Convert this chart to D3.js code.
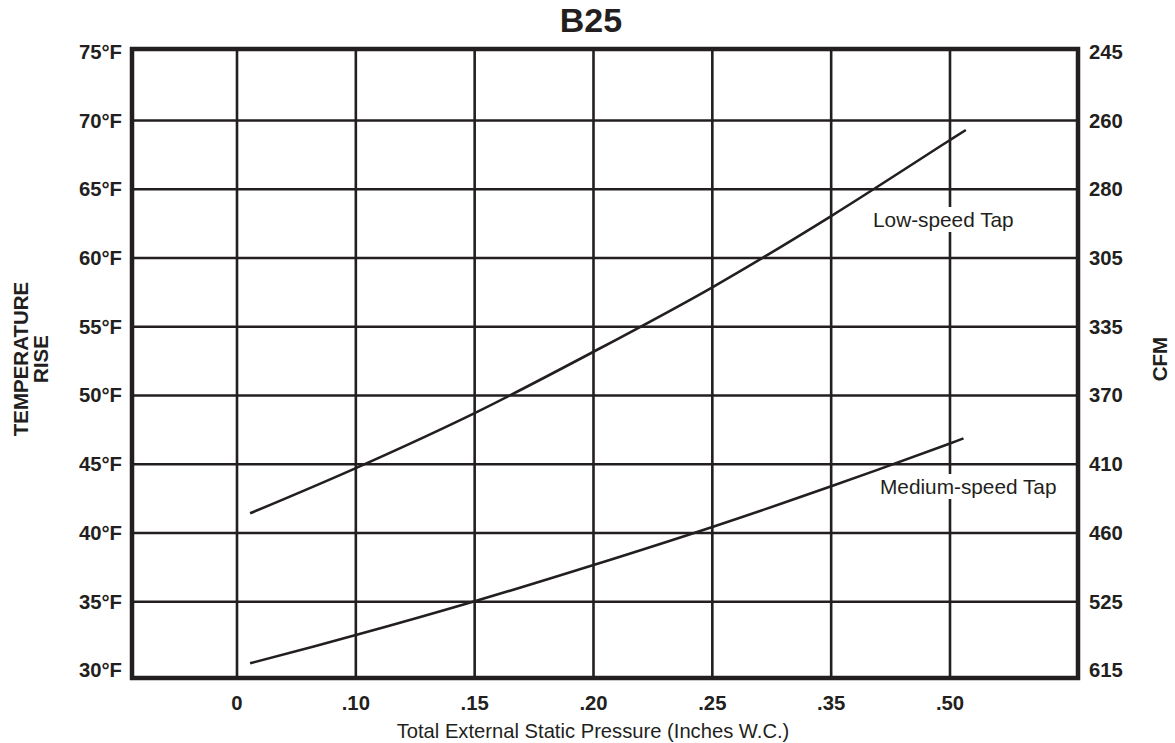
<!DOCTYPE html>
<html>
<head>
<meta charset="utf-8">
<script src="https://cdn.jsdelivr.net/npm/d3@7"></script>
<style>
  html, body { margin: 0; padding: 0; background: #fff; }
  svg { display: block; font-family: "Liberation Sans", Arial, Helvetica, sans-serif; }
</style>
</head>
<body>
<svg id="chart" width="1175" height="743"></svg>
<script>
// ---------------- data ----------------
const title = "B25";
const pressureCategories = ["0", ".10", ".15", ".20", ".25", ".35", ".50"];
const pressureValues = [0, 0.10, 0.15, 0.20, 0.25, 0.35, 0.50];
const tempTicks = [75, 70, 65, 60, 55, 50, 45, 40, 35, 30];
const tempLabels = ["75°F", "70°F", "65°F", "60°F", "55°F", "50°F", "45°F", "40°F", "35°F", "30°F"];
const cfmLabels = ["245", "260", "280", "305", "335", "370", "410", "460", "525", "615"];

const lowSpeedPressure = [0.011, 0.10, 0.15, 0.20, 0.25, 0.35, 0.50, 0.52];
const lowSpeedTemp     = [41.43, 44.72, 48.72, 53.18, 57.87, 63.05, 68.58, 69.31];
const mediumSpeedPressure = [0.011, 0.10, 0.15, 0.20, 0.25, 0.35, 0.50, 0.517];
const mediumSpeedTemp     = [30.52, 32.57, 35.03, 37.67, 40.44, 43.39, 46.51, 46.88];

const seriesLabels = ["Low-speed Tap", "Medium-speed Tap"];
const xAxisTitle = "Total External Static Pressure (Inches W.C.)";
const leftAxisTitle = ["TEMPERATURE", "RISE"];
const rightAxisTitle = "CFM";

// ---------------- layout ----------------
const ink = "#231f20";
const frame = { left: 132, right: 1078, top: 49, bottom: 678 };

const svg = d3.select("#chart");

const xPoint = d3.scalePoint().domain(pressureCategories).range([237, 950]);
// piecewise-linear scale mapping pressure values onto the evenly spaced categories
const x = d3.scaleLinear().domain(pressureValues).range(pressureCategories.map(c => xPoint(c)));
const y = d3.scaleLinear().domain([70, 35]).range([120.5, 601.7]);

// gridlines
const grid = svg.append("g").attr("stroke", ink).attr("stroke-width", 2.6);
grid.selectAll("line.h").data(tempTicks.filter(t => t !== 75 && t !== 30)).join("line")
  .attr("class", "h")
  .attr("x1", frame.left).attr("x2", frame.right)
  .attr("y1", d => y(d)).attr("y2", d => y(d));
grid.selectAll("line.v").data(pressureCategories).join("line")
  .attr("class", "v")
  .attr("x1", d => xPoint(d)).attr("x2", d => xPoint(d))
  .attr("y1", frame.top).attr("y2", frame.bottom);

// series lines
const line = d3.line().x(d => x(d[0])).y(d => y(d[1])).curve(d3.curveCatmullRom.alpha(0.5));
const lowData = lowSpeedPressure.map((p, i) => [p, lowSpeedTemp[i]]);
const medData = mediumSpeedPressure.map((p, i) => [p, mediumSpeedTemp[i]]);
svg.append("g").selectAll("path").data([lowData, medData]).join("path")
  .attr("d", line)
  .attr("fill", "none")
  .attr("stroke", ink)
  .attr("stroke-width", 2.6);

// frame
svg.append("rect")
  .attr("x", frame.left).attr("y", frame.top)
  .attr("width", frame.right - frame.left).attr("height", frame.bottom - frame.top)
  .attr("fill", "none").attr("stroke", ink).attr("stroke-width", 4.5);

// series labels with white backgrounds
const labelPos = [[873, 227], [880, 494]];
seriesLabels.forEach((txt, i) => {
  const g = svg.append("g");
  const t = g.append("text")
    .attr("x", labelPos[i][0]).attr("y", labelPos[i][1])
    .attr("font-size", 20.8).attr("fill", ink)
    .text(txt);
  const bb = t.node().getBBox();
  g.insert("rect", "text")
    .attr("x", bb.x - 2).attr("y", bb.y - 1)
    .attr("width", bb.width + 4).attr("height", bb.height + 2)
    .attr("fill", "#fff");
});

// left tick labels
const labelY = t => Math.max(frame.top + 3, Math.min(frame.bottom - 4, y(t)));
svg.append("g").selectAll("text").data(tempTicks).join("text")
  .attr("x", 122).attr("y", d => labelY(d) + 7)
  .attr("text-anchor", "end")
  .attr("font-size", 20.3).attr("font-weight", "bold").attr("fill", ink)
  .text((d, i) => tempLabels[i]);

// right tick labels
svg.append("g").selectAll("text").data(tempTicks).join("text")
  .attr("x", 1089).attr("y", d => labelY(d) + 7)
  .attr("text-anchor", "start")
  .attr("font-size", 20.3).attr("font-weight", "bold").attr("fill", ink)
  .text((d, i) => cfmLabels[i]);

// bottom tick labels
svg.append("g").selectAll("text").data(pressureCategories).join("text")
  .attr("x", d => xPoint(d)).attr("y", 710)
  .attr("text-anchor", "middle")
  .attr("font-size", 20.3).attr("font-weight", "bold").attr("fill", ink)
  .text(d => d);

// x-axis title
svg.append("text")
  .attr("x", 593).attr("y", 738)
  .attr("text-anchor", "middle")
  .attr("font-size", 20.2).attr("fill", ink)
  .text(xAxisTitle);

// chart title
svg.append("text")
  .attr("x", 591).attr("y", 32)
  .attr("text-anchor", "middle")
  .attr("font-size", 34).attr("font-weight", "bold").attr("fill", ink)
  .text(title);

// left axis title (rotated, two lines)
const lt = svg.append("text")
  .attr("transform", "translate(28,359) rotate(-90)")
  .attr("text-anchor", "middle")
  .attr("font-size", 20.5).attr("font-weight", "bold").attr("fill", ink);
lt.append("tspan").attr("x", 0).attr("y", 0).text(leftAxisTitle[0]);
lt.append("tspan").attr("x", 0).attr("y", 20).text(leftAxisTitle[1]);

// right axis title
svg.append("text")
  .attr("transform", "translate(1167,359) rotate(-90)")
  .attr("text-anchor", "middle")
  .attr("font-size", 20.5).attr("font-weight", "bold").attr("fill", ink)
  .text(rightAxisTitle);
</script>
</body>
</html>
